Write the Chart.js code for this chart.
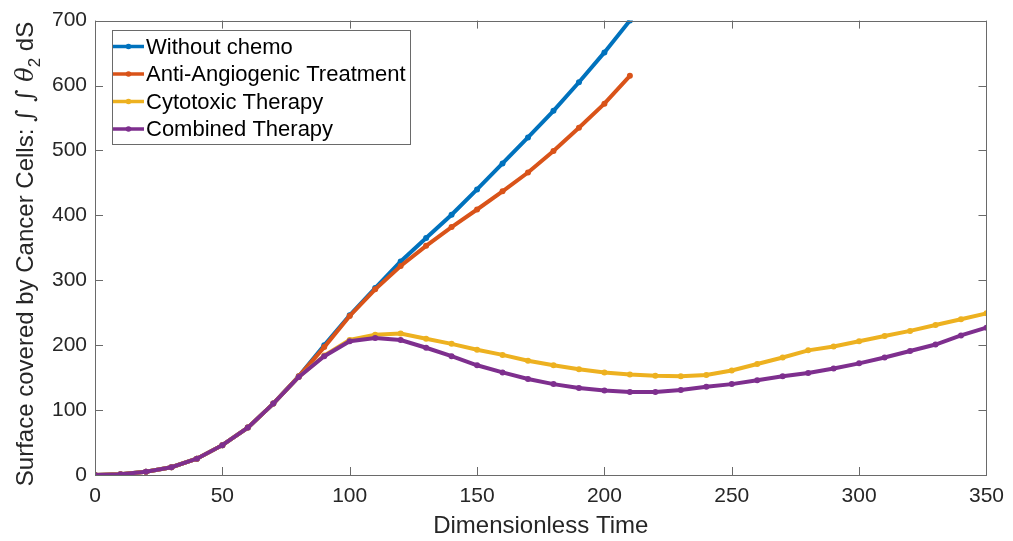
<!DOCTYPE html>
<html>
<head>
<meta charset="utf-8">
<script src="https://cdn.jsdelivr.net/npm/chart.js@4/dist/chart.umd.min.js"></script>
<style>
  html, body { margin: 0; padding: 0; background: #ffffff; }
  #wrap { width: 1013px; height: 541px; }
</style>
</head>
<body>
<div id="wrap"><canvas id="c" width="1013" height="541"></canvas></div>
<script>
// Dimensionless time samples
const times = [0, 10, 20, 30, 40, 50, 60, 70, 80, 90, 100, 110, 120, 130, 140, 150, 160, 170,
  180, 190, 200, 210, 220, 230, 240, 250, 260, 270, 280, 290, 300, 310, 320, 330, 340, 350];

// Surface covered by cancer cells for each scenario
const withoutChemo = [0, 1, 5, 12, 25, 46, 73, 110, 152, 200, 246, 288, 329, 365, 401, 440, 480, 520,
  561, 605, 651, 700];
const antiAngiogenic = [0, 1, 5, 12, 25, 46, 73, 110, 152, 197, 245, 286, 322, 353, 382, 409, 437, 466,
  499, 535, 572, 615];
const cytotoxic = [0, 1, 5, 12, 25, 46, 73, 110, 151, 184, 208, 216, 218, 210, 202, 193, 185, 176,
  169, 163, 158, 155, 153, 152, 154, 161, 171, 181, 192, 198, 206, 214, 222, 231, 240, 249];
const combined = [0, 1, 5, 12, 25, 46, 73, 110, 151, 183, 206, 211, 208, 196, 183, 169, 158, 148,
  140, 134, 130, 128, 128, 131, 136, 140, 146, 152, 157, 164, 172, 181, 191, 201, 215, 227];

const seriesNames = ['Without chemo', 'Anti-Angiogenic Treatment', 'Cytotoxic Therapy', 'Combined Therapy'];
const seriesColors = ['#0072BD', '#D95319', '#EDB120', '#7E2F8E'];

const xTicks = [0, 50, 100, 150, 200, 250, 300, 350];
const yTicks = [0, 100, 200, 300, 400, 500, 600, 700];

const FONT = "'Liberation Sans', Arial, Helvetica, sans-serif";
const TEXT = '#262626';
const AXIS = '#6a6a6a';

function pairs(vals) {
  return vals.map((v, i) => ({ x: times[i], y: v }));
}

const allSeries = [withoutChemo, antiAngiogenic, cytotoxic, combined];
const datasets = allSeries.map((vals, i) => ({
  label: seriesNames[i],
  data: pairs(vals),
  borderColor: seriesColors[i],
  backgroundColor: seriesColors[i],
  borderWidth: 4,
  pointRadius: 3,
  pointBorderWidth: 0,
  pointHoverRadius: 3,
  tension: 0,
  fill: false,
  order: 4 - i
}));

// Box around the plot area with inward tick marks on all four sides
const boxPlugin = {
  id: 'boxTicks',
  afterDatasetsDraw(chart) {
    const { ctx, chartArea: a, scales } = chart;
    const len = 8;
    ctx.save();
    ctx.strokeStyle = AXIS;
    ctx.lineWidth = 1;
    ctx.beginPath();
    xTicks.forEach(v => {
      const px = Math.round(scales.x.getPixelForValue(v)) + 0.5;
      ctx.moveTo(px, a.bottom); ctx.lineTo(px, a.bottom - len);
      ctx.moveTo(px, a.top); ctx.lineTo(px, a.top + len);
    });
    yTicks.forEach(v => {
      const py = Math.round(scales.y.getPixelForValue(v)) + 0.5;
      ctx.moveTo(a.left, py); ctx.lineTo(a.left + len, py);
      ctx.moveTo(a.right, py); ctx.lineTo(a.right - len, py);
    });
    ctx.stroke();
    ctx.strokeRect(Math.round(a.left) + 0.5, Math.round(a.top) + 0.5,
      Math.round(a.right - a.left), Math.round(a.bottom - a.top));
    ctx.restore();
  }
};

// Legend box inside the upper-left corner of the axes
const legendPlugin = {
  id: 'insideLegend',
  afterDraw(chart) {
    const { ctx } = chart;
    const x0 = 112.5, y0 = 30.5, w = 298, h = 114;
    const rowY = [46.5, 74, 101.5, 129];
    ctx.save();
    ctx.fillStyle = '#ffffff';
    ctx.fillRect(x0, y0, w, h);
    ctx.strokeStyle = AXIS;
    ctx.lineWidth = 1;
    ctx.strokeRect(x0, y0, w, h);
    chart.data.datasets.forEach((ds, i) => {
      const y = rowY[i];
      ctx.strokeStyle = ds.borderColor;
      ctx.lineWidth = 3.5;
      ctx.beginPath();
      ctx.moveTo(113, y); ctx.lineTo(144, y);
      ctx.stroke();
      ctx.fillStyle = ds.borderColor;
      ctx.beginPath();
      ctx.arc(128.5, y, 2.8, 0, Math.PI * 2);
      ctx.fill();
      ctx.fillStyle = '#000000';
      ctx.font = '22px ' + FONT;
      ctx.textAlign = 'left';
      ctx.textBaseline = 'middle';
      ctx.fillText(ds.label, 146, y + 1);
    });
    ctx.restore();
  }
};

// Rotated y-axis title with a small math expression
const yTitlePlugin = {
  id: 'yTitle',
  afterDraw(chart) {
    const { ctx } = chart;
    const parts = [
      { t: 'Surface covered by Cancer Cells: ', f: '24px ' + FONT, dy: 0 },
      { t: '\u222B \u222B \u03B8', f: 'italic 24px "DejaVu Serif", "Liberation Serif", serif', dy: 0 },
      { t: '2', f: '17px ' + FONT, dy: 7 },
      { t: ' dS', f: '24px ' + FONT, dy: 0 }
    ];
    let total = 0;
    parts.forEach(p => { ctx.font = p.f; p.w = ctx.measureText(p.t).width; total += p.w; });
    ctx.save();
    ctx.translate(33, 254);
    ctx.rotate(-Math.PI / 2);
    ctx.fillStyle = TEXT;
    ctx.textBaseline = 'alphabetic';
    ctx.textAlign = 'left';
    let x = -total / 2;
    parts.forEach(p => {
      ctx.font = p.f;
      ctx.fillText(p.t, x, p.dy);
      x += p.w;
    });
    ctx.restore();
  }
};

new Chart(document.getElementById('c'), {
  type: 'line',
  data: { datasets },
  options: {
    responsive: false,
    animation: false,
    devicePixelRatio: 1,
    layout: { padding: { left: 0, top: 19, right: 24, bottom: 0 } },
    plugins: { legend: { display: false }, tooltip: { enabled: false } },
    scales: {
      x: {
        type: 'linear',
        min: 0, max: 350,
        afterBuildTicks: s => { s.ticks = xTicks.map(v => ({ value: v })); },
        afterFit: s => { s.height = 66; },
        grid: { display: false, drawTicks: false },
        border: { display: false },
        ticks: { padding: 9, color: TEXT, font: { family: FONT, size: 21 }, maxRotation: 0 },
        title: { display: true, text: 'Dimensionless Time', color: TEXT,
          font: { family: FONT, size: 24 }, padding: { top: 0, bottom: 0 } }
      },
      y: {
        type: 'linear',
        min: 0, max: 700,
        afterBuildTicks: s => { s.ticks = yTicks.map(v => ({ value: v })); },
        afterFit: s => { s.width = 95; },
        grid: { display: false, drawTicks: false },
        border: { display: false },
        ticks: { padding: 8, color: TEXT, font: { family: FONT, size: 21 } },
        title: { display: false }
      }
    }
  },
  plugins: [boxPlugin, legendPlugin, yTitlePlugin]
});
</script>
</body>
</html>
